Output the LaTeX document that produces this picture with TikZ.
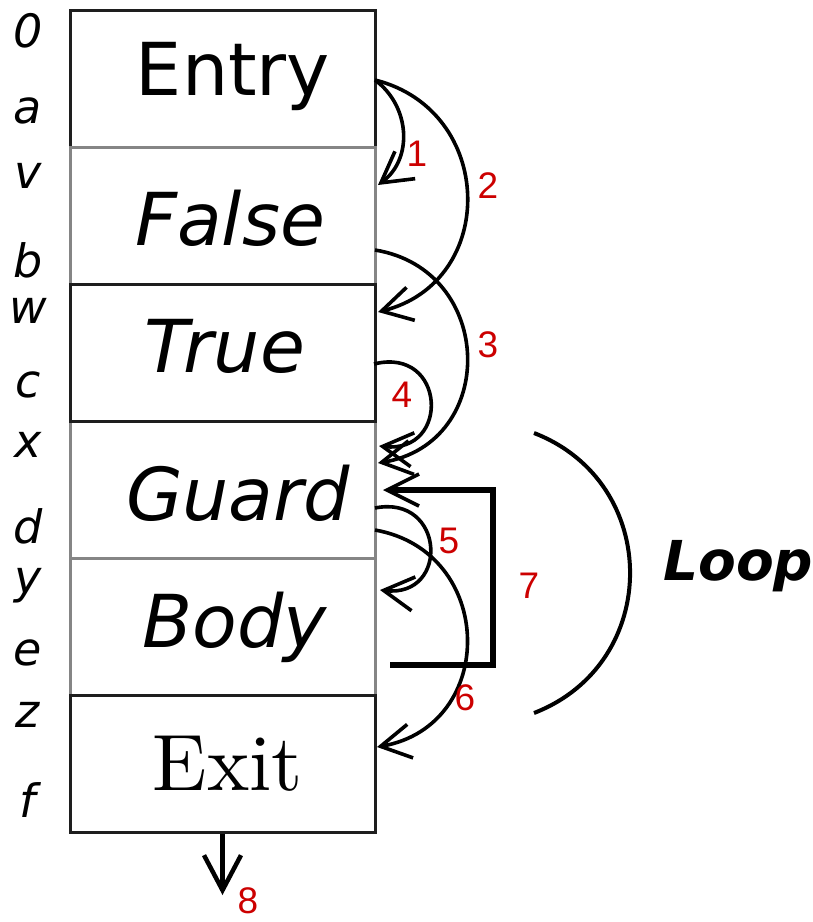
\documentclass[tikz,border=0pt]{standalone}
\usepackage{fontspec}
\newfontfamily\dvs{DejaVu Sans}
\newfontfamily\lsans{Liberation Sans}
\newfontfamily\exitfont{lmroman10-regular.otf}
\usetikzlibrary{arrows.meta}
\definecolor{frameDark}{HTML}{1E1E1E}
\definecolor{frameGray}{HTML}{858585}
\definecolor{numred}{HTML}{CC0000}
\tikzset{
  block/.style={rectangle, draw, line width=3pt, minimum width=305pt,
    minimum height=137pt, inner sep=0pt},
  darkblock/.style={block, draw=frameDark},
  grayblock/.style={block, draw=frameGray},
  blocktext/.style={anchor=base, inner sep=0pt, font=\dvs\fontsize{73}{80}\selectfont},
  slotlabel/.style={anchor=base, inner sep=0pt, font=\dvs\itshape\fontsize{46}{50}\selectfont},
  edgenum/.style={inner sep=0pt, text=numred, font=\lsans\fontsize{37}{40}\selectfont},
  flow/.style={line width=3.6pt, -{Straight Barb[length=30pt,width=34pt]}},
}
\begin{document}
\begin{tikzpicture}[x=1pt,y=-1pt]
\useasboundingbox (0,0) rectangle (813,922);

% stacked blocks (drawn so the shared edges get the right shade)
\node[darkblock] (entry) at (222.5,78.5) {};
\node[grayblock] (false) at (222.5,215.5) {};
\node[grayblock] (guard) at (222.5,489.5) {};
\node[darkblock] (true)  at (222.5,352.5) {};
\node[grayblock] (body)  at (222.5,626.5) {};
\node[darkblock] (exit)  at (222.5,763.5) {};

% block captions
\node[blocktext] (tentry) at (233,95) {Entry};
\node[blocktext] (tfalse) at (230,245) {\itshape False};
\node[blocktext] (ttrue)  at (225,372) {\itshape True};
\node[blocktext] (tguard) at (238,520) {\itshape Guard};
\node[blocktext] (tbody)  at (235,647) {\itshape Body};
\node[anchor=base, inner sep=0pt, font=\exitfont\fontsize{80}{86}\selectfont] (texit) at (228,790) {Exit};

% program points along the left side
\node[slotlabel] (p0) at (28,47)  {0};
\node[slotlabel] (pa) at (28,123) {a};
\node[slotlabel] (pv) at (28,188) {v};
\node[slotlabel] (pb) at (28,277) {b};
\node[slotlabel] (pw) at (28,323) {w};
\node[slotlabel] (pc) at (28,397) {c};
\node[slotlabel] (px) at (28,457) {x};
\node[slotlabel] (pd) at (28,543) {d};
\node[slotlabel] (py) at (28,593) {y};
\node[slotlabel] (pe) at (28,665) {e};
\node[slotlabel] (pz) at (28,727) {z};
\node[slotlabel] (pf) at (28,817) {f};

% edge end points on the right side of the blocks
\coordinate (a1s) at (375,80);   \coordinate (a1t) at (378,185);
\coordinate (a2s) at (375,80);   \coordinate (a2t) at (378,312);
\coordinate (a3s) at (375,250);  \coordinate (a3t) at (378,463);
\coordinate (a4s) at (374,364);  \coordinate (a4t) at (379,446);
\coordinate (a5s) at (375,508);  \coordinate (a5t) at (380,590);
\coordinate (a6s) at (375,530);  \coordinate (a6t) at (377,747);
\coordinate (a7s) at (390,665);  \coordinate (a7t) at (383,490);
\coordinate (a8t) at (222.5,895);
\coordinate (loopA) at (534,433); \coordinate (loopB) at (534,713);

% control-flow edges
\draw[flow] (a1s) .. controls +(35.3,26.1) and +(35.3,-26.1) .. (a1t);
\draw[flow] (a2s) .. controls +(120.7,30.2) and +(120.7,-30.2) .. (a2t);
\draw[flow] (a3s) .. controls +(120.6,19.7) and +(120.6,-19.7) .. (a3t);
\draw[flow] (a4s) .. controls +(72,-18) and +(72,8) .. (a4t);
\draw[flow] (a5s) .. controls +(70,-14) and +(70,8) .. (a5t);
\draw[flow] (a6s) .. controls +(121.1,21.4) and +(121.1,-21.4) .. (a6t);
\draw[line width=5.5pt, -{Straight Barb[length=32pt,width=32pt,line width=3.6pt]}]
  (a7s) -- ++(103,0) |- (a7t);
\draw[line width=4.5pt, -{Straight Barb[length=35pt,width=37pt]}] (exit.south) -- (a8t);

% loop bracket
\draw[line width=4pt] (loopA) .. controls +(128.1,49.5) and +(128.1,-49.5) .. (loopB);
\node[anchor=base west, inner sep=0pt, font=\dvs\bfseries\itshape\fontsize{55}{60}\selectfont]
  (looplabel) at (663,580) {Loop};

% edge numbers
\node[edgenum] (n1) at (417,154) {1};
\node[edgenum] (n2) at (488,186) {2};
\node[edgenum] (n3) at (488,345) {3};
\node[edgenum] (n4) at (402,395) {4};
\node[edgenum] (n5) at (449,541) {5};
\node[edgenum] (n7) at (529,586) {7};
\node[edgenum] (n6) at (465,698) {6};
\node[edgenum] (n8) at (248,901) {8};
\end{tikzpicture}
\end{document}
